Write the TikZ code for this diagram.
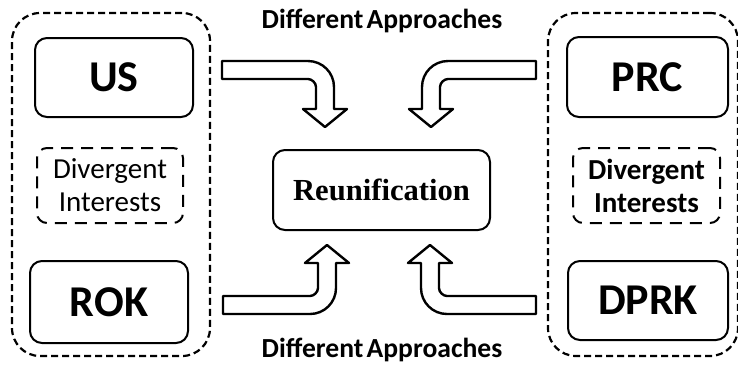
\documentclass[tikz,border=0pt]{standalone}
\usepackage{fontspec}
\setmainfont{Carlito}
\newfontfamily\reunifont{Liberation Serif}
\usetikzlibrary{positioning}
\tikzset{
	group/.style={draw, line width=1.1pt, dash pattern=on 3.5pt off 2pt, rounded corners=14pt},
	party/.style={draw, line width=1pt, rounded corners=6pt, font=\bfseries\fontsize{22}{24}\selectfont},
	interest/.style={draw, line width=1pt, dash pattern=on 6pt off 4pt, rounded corners=5pt, align=center, font=\fontsize{14.5}{16.5}\selectfont},
	goal/.style={draw, line width=1pt, rounded corners=6pt, font=\reunifont\bfseries\fontsize{15.3}{18}\selectfont},
	bent/.style={draw, line width=1.2pt, fill=white, line join=round},
	caption/.style={font=\bfseries\fontsize{13.8}{16}\selectfont}}

\begin{document}
\begin{tikzpicture}[x=0.5pt, y=-0.5pt]
		\useasboundingbox (0,0) rectangle (738,366);
		
		% the two sides
		\node[group, minimum width=99pt, minimum height=171.5pt] (left) at (111,184.5) {};
		\node[group, minimum width=95pt, minimum height=171.5pt] (right) at (643,184.5) {};
		
		\node[party, minimum width=79pt, minimum height=39.5pt] (us) at (114,77.5) {US};
		\node[interest, minimum width=73pt, minimum height=37.5pt] (divl) at (110,185.5) {Divergent\\Interests};
		\node[party, minimum width=79pt, minimum height=41pt] (rok) at (109,302) {ROK};
		
		\node[party, minimum width=80.5pt, minimum height=40pt] (prc) at (647.5,77) {PRC};
		\node[interest, minimum width=73.5pt, minimum height=37.5pt, font=\bfseries\fontsize{14.5}{16.5}\selectfont] (divr) at (646.5,185.5) {Divergent\\Interests};
		\node[party, minimum width=80pt, minimum height=39.5pt] (dprk) at (648,300.5) {DPRK};
		
		\node[goal, minimum width=108.5pt, minimum height=40pt] (reunif) at (381.5,190) {Reunification};
		
		\node[caption] (topcap) at (382,21) {Different\hspace{0.12em}Approaches};
		\node[caption] (botcap) at (382,350) {Different\hspace{0.12em}Approaches};
		
		% bent arrows
		\draw[bent] (222,61) -- (308,61) .. controls (322.4,61) and (334,72.6) .. (334,87) -- (334,109) -- (347,109) -- (325,127) -- (303,109) -- (316,109) -- (316,87) .. controls (316,82.6) and (311.6,79) .. (308,79) -- (222,79) -- cycle;
		\draw[bent] (536,61) -- (448,61) .. controls (433.6,61) and (422,72.6) .. (422,87) -- (422,109) -- (409,109) -- (431,127) -- (453,109) -- (440,109) -- (440,87) .. controls (440,82.6) and (444.4,79) .. (448,79) -- (536,79) -- cycle;
		\draw[bent] (223,314) -- (310,314) .. controls (324.4,314) and (336,302.4) .. (336,288) -- (336,263) -- (349,263) -- (327,245) -- (305,263) -- (318,263) -- (318,288) .. controls (318,292.4) and (313.6,296) .. (310,296) -- (223,296) -- cycle;
		\draw[bent] (536,314) -- (447,314) .. controls (432.6,314) and (421,302.4) .. (421,288) -- (421,263) -- (408,263) -- (430,245) -- (452,263) -- (439,263) -- (439,288) .. controls (439,292.4) and (443.4,296) .. (447,296) -- (536,296) -- cycle;
	\end{tikzpicture}
\end{document}
